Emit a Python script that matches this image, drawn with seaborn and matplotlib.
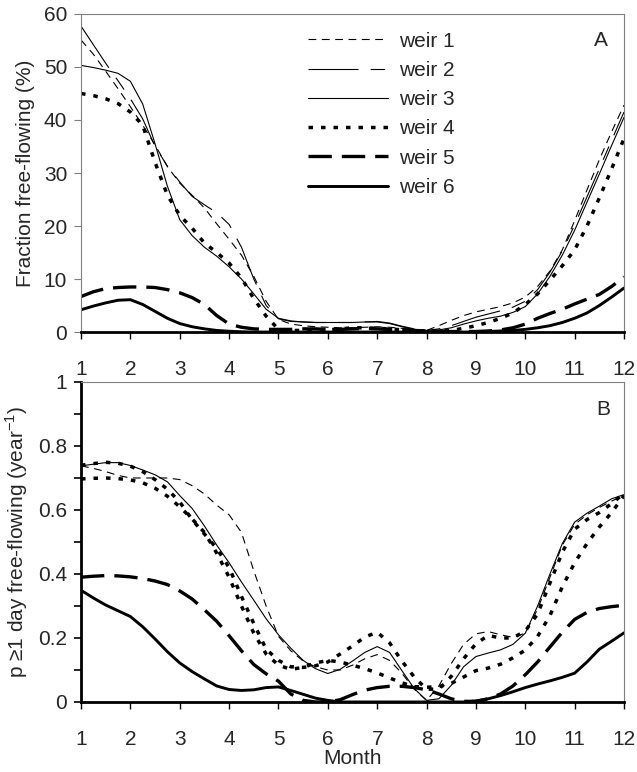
import matplotlib
matplotlib.use("Agg")
import matplotlib.pyplot as plt
import seaborn as sns
import pandas as pd

# Month grid shared by every series (quarter-month steps, 1 .. 12)
MONTHS = [1 + 0.25 * i for i in range(45)]

# Panel A: fraction of time free-flowing (%)
A_WEIR1 = [55.1, 52.4, 49.2, 45.9, 42.5, 39.0, 35.3, 31.2, 28.1, 25.8, 23.4, 20.4,
           17.5, 14.5, 10.5, 5.8, 2.4, 1.5, 1.2, 1.0, 0.9, 0.8, 0.8, 0.9,
           1.0, 0.9, 0.7, 0.5, 0.3, 1.2, 2.2, 3.1, 3.8, 4.3, 4.8, 5.5,
           6.6, 8.6, 11.5, 15.5, 21.0, 26.8, 32.5, 37.8, 42.8]
A_WEIR2 = [57.7, 54.2, 50.7, 47.4, 44.0, 40.2, 35.0, 31.3, 28.3, 25.6, 24.0, 22.5,
           20.3, 16.0, 10.0, 5.0, 2.5, 2.0, 1.9, 1.8, 1.8, 1.8, 1.8, 1.9,
           2.0, 1.7, 1.1, 0.6, 0.3, 0.6, 1.2, 2.0, 2.8, 3.4, 4.0, 4.7,
           5.8, 8.0, 11.3, 15.3, 20.2, 25.5, 30.8, 36.2, 41.5]
A_WEIR3 = [50.3, 49.9, 49.4, 48.8, 47.3, 43.0, 35.5, 27.5, 21.2, 18.2, 16.0, 14.3,
           12.3, 10.0, 7.2, 4.3, 2.6, 2.1, 1.9, 1.8, 1.8, 1.8, 1.8, 1.9,
           1.9, 1.6, 1.0, 0.5, 0.3, 0.4, 0.8, 1.5, 2.1, 2.6, 3.0, 3.7,
           4.8, 7.2, 10.5, 14.5, 19.2, 24.5, 29.8, 35.2, 40.5]
A_WEIR4 = [45.0, 44.6, 44.0, 43.1, 41.5, 39.0, 32.0, 25.8, 22.0, 19.6, 16.8, 15.0,
           13.0, 10.2, 6.3, 3.0, 0.5, 0.3, 0.3, 0.3, 0.4, 0.6, 0.8, 0.8,
           0.7, 0.6, 0.4, 0.3, 0.2, 0.2, 0.3, 0.7, 1.2, 1.8, 2.6, 3.6,
           5.2, 7.2, 9.8, 12.5, 15.5, 20.0, 25.3, 30.8, 36.5]
A_WEIR5 = [6.7, 7.6, 8.2, 8.4, 8.5, 8.5, 8.4, 8.0, 7.4, 6.5, 5.2, 3.1,
           1.5, 0.9, 0.6, 0.5, 0.5, 0.5, 0.6, 0.6, 0.5, 0.5, 0.6, 0.7,
           0.6, 0.5, 0.4, 0.3, 0.2, 0.1, 0.1, 0.1, 0.1, 0.2, 0.4, 0.8,
           1.5, 2.6, 3.5, 4.3, 5.3, 6.2, 7.1, 8.6, 10.4]
A_WEIR6 = [4.2, 4.9, 5.5, 6.0, 6.1, 5.2, 3.9, 2.6, 1.6, 1.0, 0.6, 0.3,
           0.15, 0.05, 0.0, 0.0, 0.0, 0.0, 0.0, 0.0, 0.0, 0.0, 0.0, 0.0,
           0.0, 0.0, 0.0, 0.0, 0.0, 0.0, 0.0, 0.0, 0.0, 0.1, 0.2, 0.3,
           0.5, 0.8, 1.2, 1.8, 2.6, 3.6, 5.0, 6.6, 8.3]

# Panel B: probability of at least one free-flowing day (per year)
B_WEIR1 = [0.738, 0.73, 0.72, 0.708, 0.70, 0.70, 0.70, 0.70, 0.695, 0.676, 0.65, 0.615,
           0.585, 0.53, 0.41, 0.30, 0.205, 0.16, 0.128, 0.11, 0.10, 0.10, 0.115, 0.135,
           0.148, 0.13, 0.09, 0.04, 0.005, 0.05, 0.12, 0.18, 0.213, 0.22, 0.21, 0.202,
           0.215, 0.29, 0.39, 0.49, 0.555, 0.585, 0.608, 0.628, 0.645]
B_WEIR2 = [0.74, 0.745, 0.749, 0.746, 0.737, 0.72, 0.695, 0.665, 0.625, 0.57, 0.525, 0.48,
           0.42, 0.33, 0.245, 0.165, 0.13, 0.11, 0.108, 0.113, 0.125, 0.15, 0.175, 0.203,
           0.218, 0.185, 0.128, 0.078, 0.04, 0.04, 0.08, 0.135, 0.182, 0.208, 0.20, 0.20,
           0.222, 0.275, 0.372, 0.468, 0.54, 0.57, 0.592, 0.62, 0.652]
B_WEIR3 = [0.738, 0.743, 0.748, 0.748, 0.739, 0.725, 0.71, 0.688, 0.645, 0.605, 0.55, 0.49,
           0.435, 0.375, 0.318, 0.26, 0.21, 0.168, 0.13, 0.104, 0.089, 0.102, 0.128, 0.155,
           0.173, 0.155, 0.098, 0.042, 0.005, 0.01, 0.052, 0.11, 0.142, 0.153, 0.163, 0.18,
           0.215, 0.30, 0.40, 0.495, 0.562, 0.59, 0.612, 0.635, 0.648]
B_WEIR4 = [0.697, 0.699, 0.70, 0.698, 0.694, 0.685, 0.668, 0.643, 0.61, 0.572, 0.53, 0.465,
           0.39, 0.30, 0.215, 0.15, 0.115, 0.102, 0.108, 0.122, 0.13, 0.125, 0.115, 0.104,
           0.091, 0.075, 0.06, 0.048, 0.046, 0.048, 0.058, 0.078, 0.098, 0.106, 0.118, 0.138,
           0.162, 0.205, 0.27, 0.36, 0.435, 0.495, 0.547, 0.592, 0.645]
B_WEIR5 = [0.39, 0.393, 0.395, 0.394, 0.391, 0.386, 0.378, 0.367, 0.347, 0.322, 0.288, 0.252,
           0.207, 0.16, 0.117, 0.088, 0.065, 0.025, 0.005, 0.0, 0.0, 0.007, 0.023, 0.037,
           0.045, 0.049, 0.049, 0.045, 0.038, 0.025, 0.01, 0.002, 0.002, 0.01, 0.025, 0.05,
           0.085, 0.125, 0.172, 0.218, 0.258, 0.28, 0.292, 0.298, 0.302]
B_WEIR6 = [0.349, 0.325, 0.303, 0.285, 0.267, 0.235, 0.197, 0.157, 0.122, 0.095, 0.072, 0.05,
           0.039, 0.036, 0.038, 0.045, 0.047, 0.036, 0.024, 0.012, 0.005, 0.0, 0.0, 0.0,
           0.0, 0.0, 0.0, 0.0, 0.0, 0.0, 0.0, 0.0, 0.003, 0.01, 0.02, 0.032,
           0.045, 0.056, 0.066, 0.077, 0.09, 0.125, 0.165, 0.19, 0.216]

LABELS = ["weir 1", "weir 2", "weir 3", "weir 4", "weir 5", "weir 6"]

# Line styles (width in points, dash pattern in line-width units)
STYLE_A = [
    dict(lw=0.8, ls=(0, (7, 5))),
    dict(lw=0.8, ls=(0, (45, 11, 13, 11))),
    dict(lw=0.8, ls="-"),
    dict(lw=2.5, ls=(0, (1.3, 2.3))),
    dict(lw=2.4, ls=(0, (7, 3))),
    dict(lw=2.1, ls="-"),
]
STYLE_B = [
    dict(lw=0.8, ls=(0, (7, 5))),
    dict(lw=2.5, ls=(0, (1.3, 2.3))),
    dict(lw=0.8, ls="-"),
    dict(lw=2.5, ls=(0, (1.3, 2.3))),
    dict(lw=2.4, ls=(0, (7, 3))),
    dict(lw=2.1, ls="-"),
]

sns.set_style("white")
plt.rcParams["font.family"] = ["Liberation Sans", "DejaVu Sans"]
plt.rcParams["mathtext.fontset"] = "custom"
plt.rcParams["mathtext.rm"] = "Liberation Sans"
FS = 15

fig = plt.figure(figsize=(6.37, 7.72), dpi=100)
axA = fig.add_axes([0.1272, 0.5699, 0.8524, 0.4120])
axB = fig.add_axes([0.1272, 0.0907, 0.8524, 0.4145])


def draw(ax, series, styles):
    for name, vals, st in zip(LABELS, series, styles):
        df = pd.DataFrame({"month": MONTHS, "value": vals})
        sns.lineplot(data=df, x="month", y="value", ax=ax, color="black",
                     linewidth=st["lw"], linestyle=st["ls"], label=name,
                     legend=False)


def style_axes(ax, thick_left):
    ax.set_xlim(1, 12)
    ax.set_xticks(range(1, 13))
    ax.set_xlabel("")
    for side in ["top", "right"]:
        ax.spines[side].set_color("#7f7f7f")
        ax.spines[side].set_linewidth(0.8)
    ax.spines["bottom"].set_color("black")
    ax.spines["bottom"].set_linewidth(2.0)
    if thick_left:
        ax.spines["left"].set_color("black")
        ax.spines["left"].set_linewidth(2.0)
        ycol, yw = "black", 1.2
    else:
        ax.spines["left"].set_color("#7f7f7f")
        ax.spines["left"].set_linewidth(0.8)
        ycol, yw = "#7f7f7f", 0.8
    ax.tick_params(axis="x", which="both", direction="out", length=5, width=1.0,
                   color="black", labelsize=FS, pad=15, bottom=True)
    ax.tick_params(axis="y", which="both", direction="out", length=5, width=yw,
                   color=ycol, labelsize=FS, pad=5, left=True)


draw(axA, [A_WEIR1, A_WEIR2, A_WEIR3, A_WEIR4, A_WEIR5, A_WEIR6], STYLE_A)
draw(axB, [B_WEIR1, B_WEIR2, B_WEIR3, B_WEIR4, B_WEIR5, B_WEIR6], STYLE_B)

style_axes(axA, thick_left=False)
axA.set_ylim(0, 60)
axA.set_yticks(range(0, 61, 10))
axA.set_ylabel("Fraction free-flowing (%)", fontsize=FS, labelpad=6)
axA.text(0.958, 0.918, "A", transform=axA.transAxes, fontsize=FS,
         ha="center", va="center")
handles, labels = axA.get_legend_handles_labels()
axA.legend(handles, labels, loc="upper left", bbox_to_anchor=(0.418, 0.944),
           frameon=False, fontsize=FS, handlelength=3.85, handletextpad=0.5,
           labelspacing=0.49, borderpad=0, borderaxespad=0)

style_axes(axB, thick_left=True)
axB.set_ylim(0, 1)
axB.set_yticks([0, 0.2, 0.4, 0.6, 0.8, 1.0])
axB.set_yticklabels(["0", "0.2", "0.4", "0.6", "0.8", "1"])
axB.set_yticks([0.1, 0.3, 0.5, 0.7, 0.9], minor=True)
axB.set_ylabel(r"p ≥1 day free-flowing (year$^{-1}$)", fontsize=FS, labelpad=6)
axB.set_xlabel("Month", fontsize=FS, labelpad=0)
axB.text(0.961, 0.9125, "B", transform=axB.transAxes, fontsize=FS,
         ha="center", va="center")

fig.savefig("out.png", dpi=100)
